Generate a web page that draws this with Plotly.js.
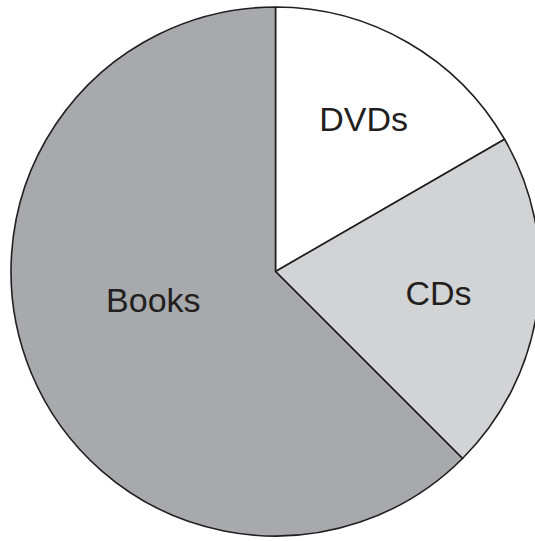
<!DOCTYPE html>
<html>
<head>
<meta charset="utf-8">
<script src="https://cdn.plot.ly/plotly-3.0.1.min.js"></script>
<style>
html,body{margin:0;padding:0;overflow:hidden;background:#fff;}
#chart{width:552px;height:541px;}
</style>
</head>
<body>
<div id="chart"></div>
<script>
var categories = ["DVDs", "CDs", "Books"];
var values = [4, 5, 15];
var sliceColors = ["#ffffff", "#d1d3d4", "#a7a9ac"];
var labelTemplates = ["%{label}", "%{label}", "%{label}<br>&nbsp;"];

var trace = {
  type: "pie",
  labels: categories,
  values: values,
  sort: false,
  direction: "clockwise",
  rotation: 0,
  marker: {colors: sliceColors, line: {color: "#231f20", width: 1.6}},
  texttemplate: labelTemplates,
  textposition: "inside",
  insidetextorientation: "horizontal",
  textfont: {family: "Liberation Sans, Arial, sans-serif", size: 34, color: "#231f20"},
  hoverinfo: "none",
  showlegend: false
};

var layout = {
  width: 552,
  height: 541,
  margin: {l: 11, r: 12, t: 7, b: 5},
  paper_bgcolor: "#ffffff",
  plot_bgcolor: "#ffffff",
  showlegend: false,
  uniformtext: {mode: false}
};

Plotly.newPlot("chart", [trace], layout, {staticPlot: true, displayModeBar: false});
</script>
</body>
</html>
